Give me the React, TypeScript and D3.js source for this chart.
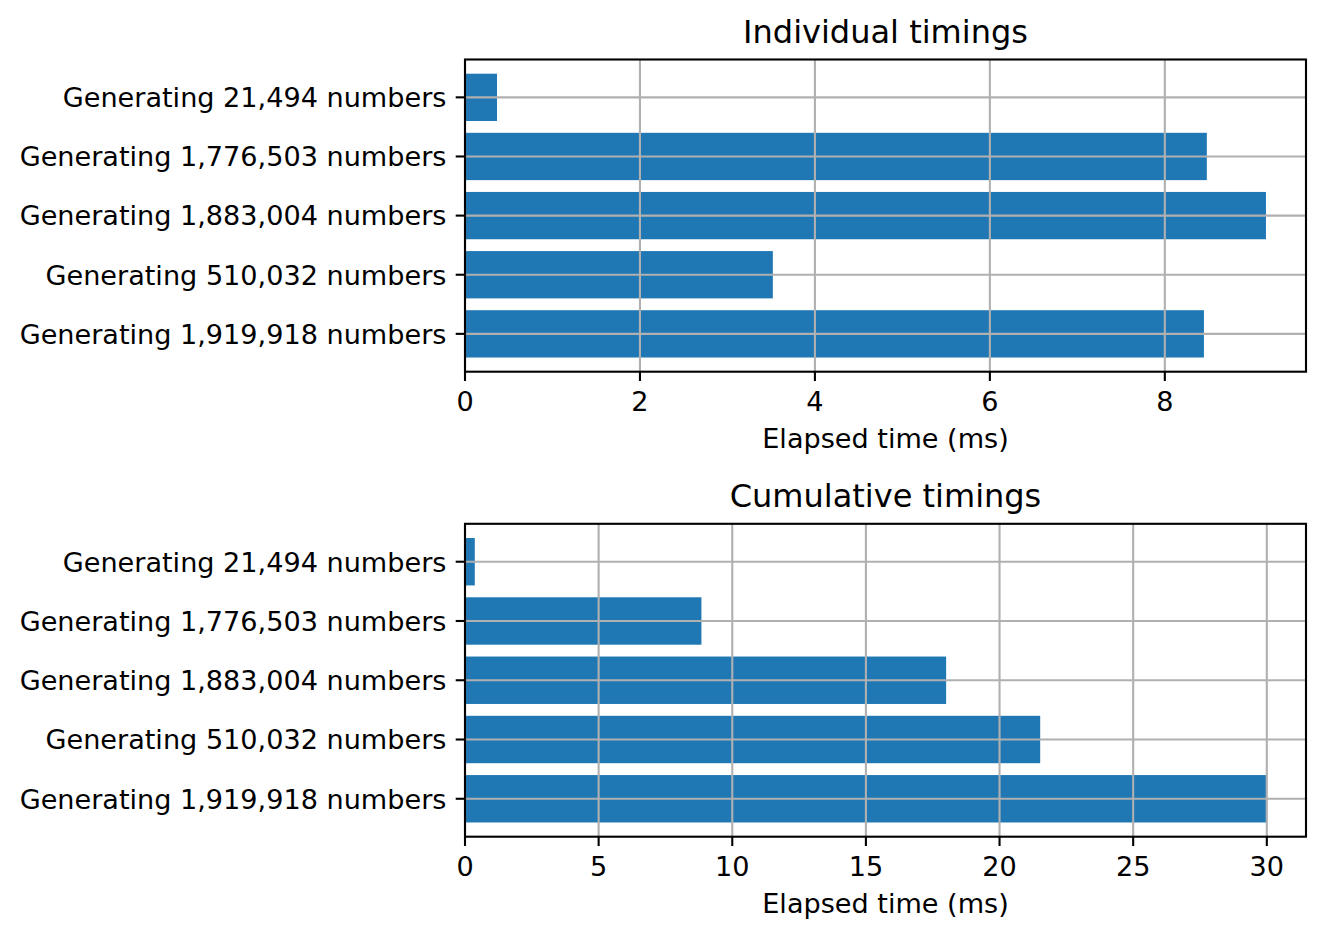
import * as d3 from "d3"

const categories = [
  "Generating 21,494 numbers",
  "Generating 1,776,503 numbers",
  "Generating 1,883,004 numbers",
  "Generating 510,032 numbers",
  "Generating 1,919,918 numbers",
]

// elapsed time per run, in ms
const individualMs = [0.366, 8.48, 9.156, 3.519, 8.447]
// running total of the same runs, in ms
const cumulativeMs = [0.366, 8.846, 18.002, 21.521, 29.968]

const individualTicks = [0, 2, 4, 6, 8]
const cumulativeTicks = [0, 5, 10, 15, 20, 25, 30]

const BAR_COLOR = "#1f77b4"
const GRID_COLOR = "#b0b0b0"
const FONT = "'DejaVu Sans', sans-serif"

const WIDTH = 1324
const HEIGHT = 940
const LEFT = 465
const RIGHT = 1306
const LINE_W = 2.1
const TICK_LEN = 9.3
const TICK_PAD = 9.3
const TICK_FONT = 27.1
const TITLE_FONT = 32

interface PanelProps {
  title: string
  values: number[]
  ticks: number[]
  top: number
  bottom: number
}

function Panel({ title, values, ticks, top, bottom }: PanelProps) {
  // matplotlib style: 5% margin on the right, bars stuck to 0
  const x = d3
    .scaleLinear()
    .domain([0, (d3.max(values) ?? 1) * 1.05])
    .range([LEFT, RIGHT])

  const y = d3
    .scaleBand<string>()
    .domain(categories)
    .range([top, bottom])
    .paddingInner(0.2)
    .paddingOuter(0.24)

  const mid = (c: string) => (y(c) ?? 0) + y.bandwidth() / 2
  const cx = (LEFT + RIGHT) / 2

  return (
    <g>
      {/* bars */}
      {categories.map((c, i) => (
        <rect
          key={c}
          x={x(0)}
          y={y(c)}
          width={x(values[i]) - x(0)}
          height={y.bandwidth()}
          fill={BAR_COLOR}
        />
      ))}

      {/* grid over the bars */}
      {ticks.map((t) => (
        <line
          key={"gx" + t}
          x1={x(t)}
          x2={x(t)}
          y1={top}
          y2={bottom}
          stroke={GRID_COLOR}
          strokeWidth={LINE_W}
        />
      ))}
      {categories.map((c) => (
        <line
          key={"gy" + c}
          x1={LEFT}
          x2={RIGHT}
          y1={mid(c)}
          y2={mid(c)}
          stroke={GRID_COLOR}
          strokeWidth={LINE_W}
        />
      ))}

      {/* frame */}
      <rect
        x={LEFT}
        y={top}
        width={RIGHT - LEFT}
        height={bottom - top}
        fill="none"
        stroke="#000"
        strokeWidth={LINE_W}
      />

      {/* y ticks */}
      {categories.map((c) => (
        <g key={"ty" + c}>
          <line x1={LEFT - TICK_LEN} x2={LEFT} y1={mid(c)} y2={mid(c)} stroke="#000" strokeWidth={LINE_W} />
          <text
            x={LEFT - TICK_LEN - TICK_PAD}
            y={mid(c) + 9.8}
            textAnchor="end"
            fontSize={TICK_FONT}
          >
            {c}
          </text>
        </g>
      ))}

      {/* x ticks */}
      {ticks.map((t) => (
        <g key={"tx" + t}>
          <line x1={x(t)} x2={x(t)} y1={bottom} y2={bottom + TICK_LEN} stroke="#000" strokeWidth={LINE_W} />
          <text x={x(t)} y={bottom + 38.8} textAnchor="middle" fontSize={TICK_FONT}>
            {t}
          </text>
        </g>
      ))}

      <text x={cx} y={bottom + 76.5} textAnchor="middle" fontSize={TICK_FONT}>
        Elapsed time (ms)
      </text>
      <text x={cx} y={top - 16.5} textAnchor="middle" fontSize={TITLE_FONT}>
        {title}
      </text>
    </g>
  )
}

export default function App() {
  return (
    <svg
      width={WIDTH}
      height={HEIGHT}
      fontFamily={FONT}
      style={{ position: "absolute", left: 0, top: 0, background: "#fff" }}
    >
      <rect width={WIDTH} height={HEIGHT} fill="#fff" />
      <Panel title="Individual timings" values={individualMs} ticks={individualTicks} top={59.5} bottom={371.7} />
      <Panel title="Cumulative timings" values={cumulativeMs} ticks={cumulativeTicks} top={523.8} bottom={836.7} />
    </svg>
  )
}
